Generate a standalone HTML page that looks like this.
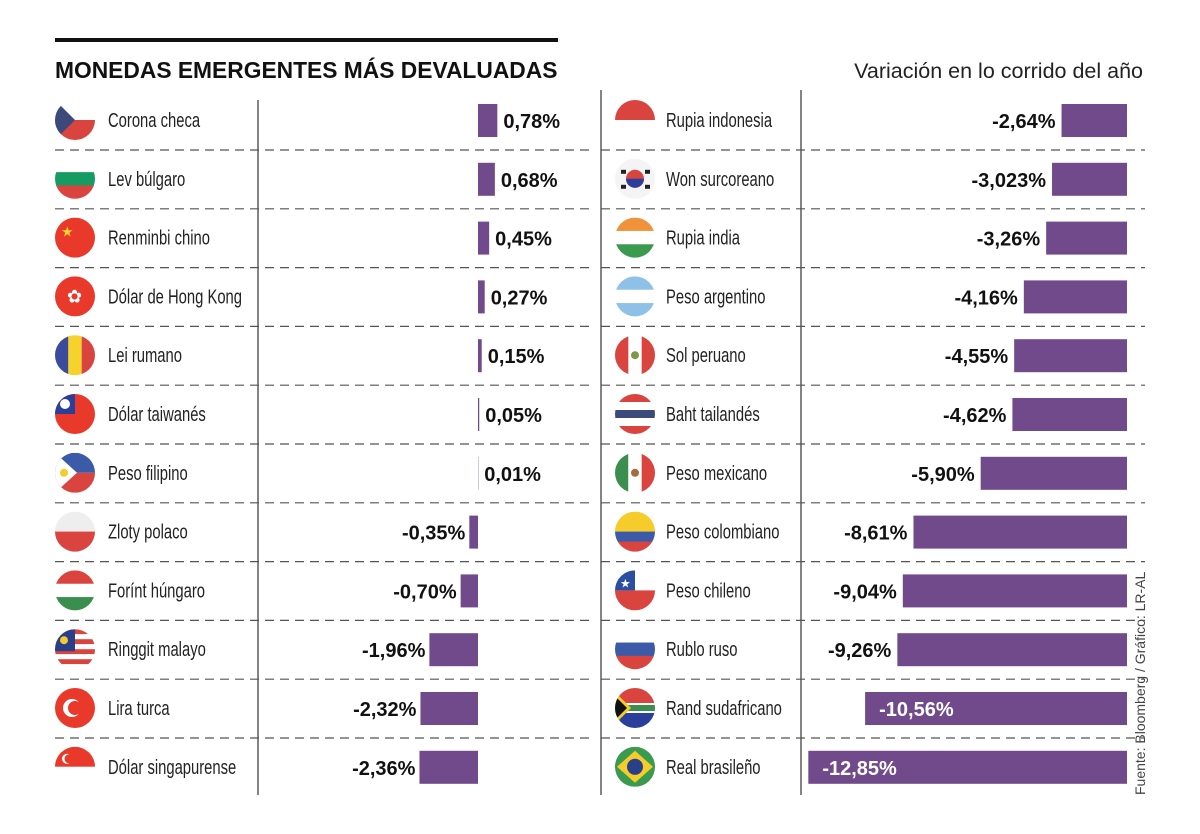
<!DOCTYPE html>
<html><head><meta charset="utf-8">
<style>
body{margin:0;background:#fff;}
svg{display:block;}
.nm{font-family:"Liberation Sans",sans-serif;font-size:20px;fill:#222;}
.vl{font-family:"Liberation Sans",sans-serif;font-size:20px;font-weight:bold;fill:#111;}
</style></head>
<body>
<svg id="c" width="1200" height="834" xmlns="http://www.w3.org/2000/svg">
<rect x="55" y="38" width="503" height="4" fill="#111"/>
<text x="55" y="78" font-family="Liberation Sans, sans-serif" font-size="22.8" font-weight="bold" fill="#111">MONEDAS EMERGENTES MÁS DEVALUADAS</text>
<text x="1143" y="78" text-anchor="end" font-family="Liberation Sans, sans-serif" font-size="21.5" fill="#222">Variación en lo corrido del año</text>
<text transform="translate(1145,795) rotate(-90)" font-family="Liberation Sans, sans-serif" font-size="14" fill="#444">Fuente: Bloomberg / Gráfico: LR-AL</text>
<line x1="258" y1="100" x2="258" y2="795" stroke="#333" stroke-width="1.2"/>
<line x1="601" y1="90" x2="601" y2="795" stroke="#333" stroke-width="1.2"/>
<line x1="801" y1="90" x2="801" y2="795" stroke="#333" stroke-width="1.2"/>
<g id="g"></g>
</svg>
<script>
const leftNames=["Corona checa","Lev búlgaro","Renminbi chino","Dólar de Hong Kong","Lei rumano","Dólar taiwanés","Peso filipino","Zloty polaco","Forínt húngaro","Ringgit malayo","Lira turca","Dólar singapurense"];
const leftValues=[0.78,0.68,0.45,0.27,0.15,0.05,0.01,-0.35,-0.70,-1.96,-2.32,-2.36];
const leftLabels=["0,78%","0,68%","0,45%","0,27%","0,15%","0,05%","0,01%","-0,35%","-0,70%","-1,96%","-2,32%","-2,36%"];
const rightNames=["Rupia indonesia","Won surcoreano","Rupia india","Peso argentino","Sol peruano","Baht tailandés","Peso mexicano","Peso colombiano","Peso chileno","Rublo ruso","Rand sudafricano","Real brasileño"];
const rightValues=[-2.64,-3.023,-3.26,-4.16,-4.55,-4.62,-5.90,-8.61,-9.04,-9.26,-10.56,-12.85];
const rightLabels=["-2,64%","-3,023%","-3,26%","-4,16%","-4,55%","-4,62%","-5,90%","-8,61%","-9,04%","-9,26%","-10,56%","-12,85%"];
const leftFlags=[["cz"],["#fff","#169b62","#d9443f"],["cn"],["hk"],["ro"],["tw"],["ph"],["#eee","#eee","#d9443f","#d9443f"],["#d9443f","#fff","#3a8f4f"],["my"],["tr"],["sg"]];
const rightFlags=[["#d9443f","#fff"],["kr"],["#f0923a","#fff","#3a9a4f"],["#8fc1e8","#fff","#8fc1e8"],["pe"],["#d9443f","#fff","#3b4a7a","#fff","#d9443f"],["mx"],["#f6cc2a","#f6cc2a","#3b5ba8","#d9443f"],["cl"],["#fff","#3b5ba8","#d9443f"],["za"],["br"]];

const NS="http://www.w3.org/2000/svg";
const g=document.getElementById('g');
const S=24.8, X0=478, XR=1127, Y0=120, STEP=58.8, BH=33;
const yC=i=>Y0+i*STEP;
const xL=v=>X0+v*S;
const wR=v=>Math.abs(v)*S;
function el(t,a,p){const e=document.createElementNS(NS,t);for(const k in a)e.setAttribute(k,a[k]);(p||g).appendChild(e);return e;}
let cid=0;
function flag(cx,cy,f,name){
  const r=20,id='cp'+(cid++);
  const cp=el('clipPath',{id:id});el('circle',{cx:cx,cy:cy,r:r},cp);
  const fg=el('g',{'clip-path':'url(#'+id+')'});
  
  
  const x=cx-r,y=cy-r,d=2*r;
  const R=(a,b,c,e,col)=>el('rect',{x:a,y:b,width:c,height:e,fill:col},fg);
  const C=(a,b,rr,col)=>el('circle',{cx:a,cy:b,r:rr,fill:col},fg);
  const t=f[0];
  if(f.length>1){f.forEach((c,k)=>R(x,y+k*d/f.length,d,d/f.length+0.5,c));return;}
  switch(t){
    case 'cz':R(x,y,d,d/2,'#fff');R(x,cy,d,d/2,'#d9443f');el('polygon',{points:`${x},${y} ${cx},${cy} ${x},${y+d}`,fill:'#3b4a7a'},fg);break;
    case 'cn':R(x,y,d,d,'#e8392b');el('text',{x:cx-14,y:cy-1,fill:'#f6d32a','font-size':14},fg).textContent='★';break;
    case 'hk':R(x,y,d,d,'#e8392b');el('text',{x:cx-8,y:cy+6,fill:'#fff','font-size':18},fg).textContent='✿';break;
    case 'ro':R(x,y,d/3,d,'#3b4a9a');R(x+d/3,y,d/3,d,'#f6d32a');R(x+2*d/3,y,d/3,d,'#d9443f');break;
    case 'tw':R(x,y,d,d,'#e8392b');R(x,y,d/2,d/2,'#2a3f9a');C(x+10,y+10,5,'#fff');break;
    case 'ph':R(x,y,d,d/2,'#3b5ba8');R(x,cy,d,d/2,'#d9443f');el('polygon',{points:`${x},${y} ${cx+2},${cy} ${x},${y+d}`,fill:'#fff'},fg);C(x+9,cy,4,'#f6cc2a');break;
    case 'my':for(let k=0;k<8;k++)R(x,y+k*5,d,5,k%2?'#fff':'#d9443f');R(x,y,d/2,d/2+2,'#2a3f8a');C(x+9,y+11,4,'#f6cc2a');break;
    case 'tr':R(x,y,d,d,'#e8392b');C(cx-3,cy,9,'#fff');C(cx,cy,7,'#e8392b');break;
    case 'sg':R(x,y,d,d/2,'#e8392b');R(x,cy,d,d/2,'#fff');C(cx-8,cy-8,5,'#fff');C(cx-6,cy-8,4.5,'#e8392b');break;
    case 'kr':R(x,y,d,d,'#f4f4f4');C(cx,cy,9,'#d9443f');el('path',{d:`M${cx-9},${cy} a9,9 0 0,0 18,0 z`,fill:'#2a3f9a'},fg);
      [[-14,-9],[10,-9],[-14,6],[10,6]].forEach(p=>R(cx+p[0],cy+p[1],5,4,'#222'));break;
    case 'pe':R(x,y,d,d,'#fff');R(x,y,d/3,d,'#d9443f');R(x+2*d/3,y,d/3,d,'#d9443f');C(cx,cy,4,'#7a9a4a');break;
    case 'mx':R(x,y,d/3,d,'#3a8f4f');R(x+d/3,y,d/3,d,'#fff');R(x+2*d/3,y,d/3,d,'#d9443f');C(cx,cy,4,'#a07040');break;
    case 'cl':R(x,y,d,d/2,'#fff');R(x,cy,d,d/2,'#d9443f');R(x,y,d/2,d/2,'#2a4fa0');el('text',{x:x+5,y:y+17,fill:'#fff','font-size':12},fg).textContent='★';break;
    case 'za':R(x,y,d,d/2,'#d9443f');R(x,cy,d,d/2,'#2a3f9a');R(x,cy-5,d,10,'#fff');R(x,cy-3,d,6,'#3a8f4f');el('polygon',{points:`${x},${y+4} ${cx-4},${cy} ${x},${y+d-4}`,fill:'#f6cc2a'},fg);el('polygon',{points:`${x},${y+8} ${cx-8},${cy} ${x},${y+d-8}`,fill:'#111'},fg);break;
    case 'br':R(x,y,d,d,'#3a9a4f');el('polygon',{points:`${cx},${y+4} ${x+d-2},${cy} ${cx},${y+d-4} ${x+2},${cy}`,fill:'#f6cc2a'},fg);C(cx,cy,8,'#2a3f8a');break;
  }
}
function name(x,y,txt){
  const t=el('text',{class:'nm',transform:`translate(${x},${y}) scale(0.74,1)`});
  t.textContent=txt;
  
  
}
for(let i=0;i<12;i++){
  const cy=yC(i);
  if(i<11){
    const s1=el('line',{x1:55,y1:cy+30,x2:590,y2:cy+30,stroke:'#555','stroke-width':1.2,'stroke-dasharray':'9,6'});
    
    
    const s2=el('line',{x1:601,y1:cy+30,x2:1145,y2:cy+30,stroke:'#555','stroke-width':1.2,'stroke-dasharray':'9,6'});
    
    
  }
  flag(75,cy,leftFlags[i],'flag-left-'+i);
  name(108,cy+7,leftNames[i]);
  const v=leftValues[i],xa=Math.min(xL(v),X0),w=Math.abs(xL(v)-X0);
  const b1=el('rect',{x:xa,y:cy-16,width:Math.max(w,0.3),height:BH,fill:'#714a8c'});
  
  
  const l1=el('text',{class:'vl',y:cy+8,x:v>=0?xL(v)+6:xa-4,'text-anchor':v>=0?'start':'end'});l1.textContent=leftLabels[i];
  
  
  flag(635,cy,rightFlags[i],'flag-right-'+i);
  name(666,cy+7,rightNames[i]);
  const rw=wR(rightValues[i]),rx=XR-rw;
  const b2=el('rect',{x:rx,y:cy-16,width:rw,height:BH,fill:'#714a8c'});
  
  
  const inside=rw>240;
  const l2=el('text',{class:'vl',y:cy+8,x:inside?rx+14:rx-6,'text-anchor':inside?'start':'end',style:inside?'fill:#fff':''});l2.textContent=rightLabels[i];
  
  
}
</script>
</body></html>
